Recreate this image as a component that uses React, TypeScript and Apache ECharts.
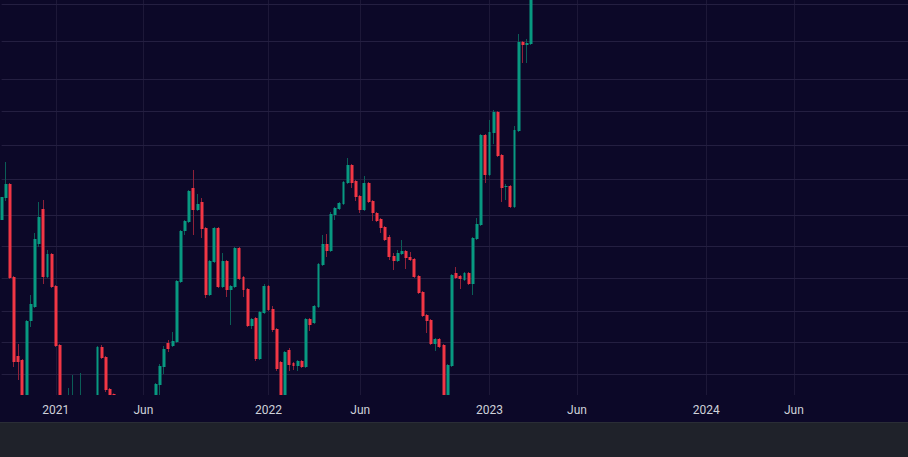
import React, { useEffect, useRef } from 'react';
import * as echarts from 'echarts';

// Weekly bars, first bar week of 2020-10-05
const startDate = '2020-10-05';
const weekCount = 219; // bars plus empty future weeks shown on the time scale

// OHLC (arbitrary price units)
const opens = [
  275, 297, 311, 218, 139, 135, 80, 174, 188, 251, 286, 218, 241,
  209, 150, 85, 90, 97, 88, 72, 60, 80, 95, 92, 148, 138, 106, 101,
  80, 70, 75, 65, 72, 78, 68, 80, 88, 96, 110, 128, 152, 149, 153, 213,
  264, 273, 307, 285, 293, 267, 200, 233, 267, 208, 234, 205, 208, 247,
  218, 206, 169, 177, 136, 182, 209, 186, 166, 133, 85, 145, 132, 129,
  134, 128, 176, 172, 188, 230, 251, 244, 280, 286, 291, 312, 330, 314,
  299, 285, 312, 294, 282, 276, 268, 258, 239, 234, 241, 244, 238, 236,
  219, 203, 180, 175, 151, 156, 150, 80, 129, 222, 219, 215, 222, 211,
  256, 270, 360, 320, 362, 383, 340, 308, 309, 288, 364, 453, 450, 451,
];
const closes = [
  298, 311, 217, 133, 133, 75, 174, 191, 256, 278, 218, 241, 208,
  149, 85, 95, 97, 88, 70, 60, 80, 95, 92, 148, 137, 105, 90, 80,
  70, 75, 65, 72, 78, 68, 80, 88, 96, 111, 129, 146, 146, 154, 214, 264,
  274, 304, 285, 291, 266, 200, 234, 267, 208, 234, 205, 209, 247, 216,
  205, 169, 176, 136, 183, 209, 185, 165, 126, 85, 143, 130, 129, 134,
  128, 176, 170, 189, 231, 251, 244, 281, 287, 292, 313, 330, 312, 298,
  285, 312, 293, 282, 274, 267, 255, 238, 234, 242, 244, 237, 235, 218,
  202, 179, 174, 151, 156, 148, 80, 130, 220, 217, 216, 222, 211, 257,
  271, 360, 320, 363, 383, 339, 307, 309, 288, 365, 453, 450, 452, 530,
];
const lows = [
  268, 294, 216, 128, 115, 70, 75, 168, 187, 248, 211, 217, 207,
  148, 80, 70, 80, 75, 55, 50, 55, 75, 85, 88, 136, 103, 85, 75,
  62, 60, 58, 55, 67, 60, 64, 75, 82, 92, 95, 121, 143, 148, 152, 212,
  260, 272, 260, 284, 257, 197, 199, 232, 207, 207, 198, 170, 207, 215,
  198, 168, 166, 134, 135, 181, 184, 163, 124, 80, 82, 124, 125, 124,
  127, 127, 164, 171, 187, 229, 238, 243, 275, 285, 290, 311, 307, 294,
  282, 284, 292, 274, 273, 262, 254, 235, 225, 233, 240, 226, 234, 217,
  201, 178, 162, 150, 144, 147, 75, 75, 128, 216, 206, 214, 210, 200,
  255, 269, 312, 319, 351, 338, 293, 295, 287, 287, 363, 432, 432, 450,
];
const highs = [
  303, 333, 312, 219, 151, 136, 175, 200, 262, 293, 295, 245, 242,
  210, 151, 98, 107, 120, 92, 122, 90, 98, 99, 149, 150, 139, 107, 101.5,
  85, 82, 80, 76, 85, 82, 86, 94, 99, 112, 131, 149, 155, 163, 215, 265,
  275, 305, 325, 301, 297, 268, 235, 268, 268, 242, 235, 210, 248, 248,
  219, 207, 177, 178, 184, 211, 210, 189, 167, 134, 144, 147, 133, 135,
  135, 177, 177, 190, 232, 260, 261, 283, 288, 293, 314, 337, 331, 315,
  300, 319, 313, 295, 283, 277, 269, 260, 242, 245, 255, 245, 243, 237,
  220, 204, 181, 176, 157, 157, 151, 131, 221, 228, 220, 223, 223, 258,
  277, 361, 361, 375, 385, 384, 341, 311, 310, 369, 461, 454, 456, 540,
];

// Time-scale marks and their labels
const tickDates = ['2021-01-04', '2021-05-31', '2021-12-27', '2022-05-30', '2023-01-02', '2023-05-29', '2024-01-01', '2024-05-27'];
const tickLabels = ['2021', 'Jun', '2022', 'Jun', '2023', 'Jun', '2024', 'Jun'];

// Price levels of the horizontal grid lines
const priceLevels = [490.5, 453.5, 415.5, 383.5, 349.5, 315.5, 279.5, 248.5, 216.5, 183.5, 152.5, 120.5];
const priceMin = 100;
const priceMax = 495;

const UP = '#089981';
const DOWN = '#f23645';
const UP_WICK = '#0b5d57';
const DOWN_WICK = '#8f2139';
const BG = '#0c0828';

function buildDates(): string[] {
  const [y, m, d] = startDate.split('-').map(Number);
  const t0 = Date.UTC(y, m - 1, d);
  const out: string[] = [];
  for (let i = 0; i < weekCount; i++) {
    out.push(new Date(t0 + i * 7 * 86400000).toISOString().slice(0, 10));
  }
  return out;
}

// the visible price window cuts candles off at the pane's edges
const clampToPane = (v: number) => Math.min(priceMax, Math.max(priceMin, v));

export default function App() {
  const ref = useRef<HTMLDivElement>(null);

  useEffect(() => {
    if (!ref.current) return;
    const chart = echarts.init(ref.current, null, { renderer: 'svg' });
    const dates = buildDates();
    const ohlc = opens.map((o, i) => [o, closes[i], lows[i], highs[i]]);
    const visible = ohlc.map((c) => {
      const [o, cl, l, h] = c.map(clampToPane);
      // keep rising/falling colour of the full candle
      return c[1] >= c[0] ? [Math.min(o, cl), Math.max(o, cl), l, h] : [Math.max(o, cl), Math.min(o, cl), l, h];
    });
    const isTick = (_: number, value: string) => tickDates.indexOf(value) >= 0;

    chart.setOption({
      animation: false,
      backgroundColor: BG,
      grid: {
        left: 1.6,
        right: -2.65,
        top: 0,
        bottom: 27,
        containLabel: false,
        outerBoundsMode: 'none',
      },
      xAxis: {
        type: 'category',
        data: dates,
        boundaryGap: false,
        axisLine: { show: false },
        axisTick: { show: false },
        axisLabel: {
          show: true,
          interval: isTick,
          formatter: (v: string) => {
            const k = tickDates.indexOf(v);
            return k >= 0 ? tickLabels[k] : '';
          },
          color: '#cfd2da',
          fontSize: 12,
          fontFamily: 'Roboto, "Liberation Sans", sans-serif',
          margin: 9,
        },
        splitLine: {
          show: true,
          interval: isTick,
          lineStyle: { color: '#1d1838', width: 1 },
        },
      },
      yAxis: {
        type: 'value',
        min: priceMin,
        max: priceMax,
        axisLine: { show: false },
        axisTick: { show: false },
        axisLabel: { show: false },
        splitLine: { show: false },
      },
      series: [
        {
          name: 'wicks',
          type: 'candlestick',
          data: visible,
          barWidth: 1,
          clip: true,
          silent: true,
          itemStyle: {
            color: UP_WICK,
            color0: DOWN_WICK,
            borderColor: UP_WICK,
            borderColor0: DOWN_WICK,
            borderWidth: 1,
          },
          markLine: {
            silent: true,
            symbol: 'none',
            z: 1,
            label: { show: false },
            lineStyle: { color: '#241f41', width: 1, type: 'solid' },
            emphasis: { disabled: true },
            data: priceLevels.map((p) => ({ yAxis: p })),
          },
        },
        {
          name: 'bodies',
          type: 'candlestick',
          data: visible,
          barWidth: 3.4,
          clip: true,
          silent: true,
          itemStyle: {
            color: UP,
            color0: DOWN,
            borderColor: UP,
            borderColor0: DOWN,
            borderWidth: 0,
          },
        },
      ],
    });
    return () => chart.dispose();
  }, []);

  return (
    <div style={{ position: 'fixed', left: 0, top: 0, width: 908, height: 457, background: BG }}>
      <div ref={ref} style={{ width: 908, height: 422 }} />
      <div style={{ width: 908, height: 35, background: '#1f222a', borderTop: '1px solid #2a2d36', boxSizing: 'border-box' }} />
    </div>
  );
}
